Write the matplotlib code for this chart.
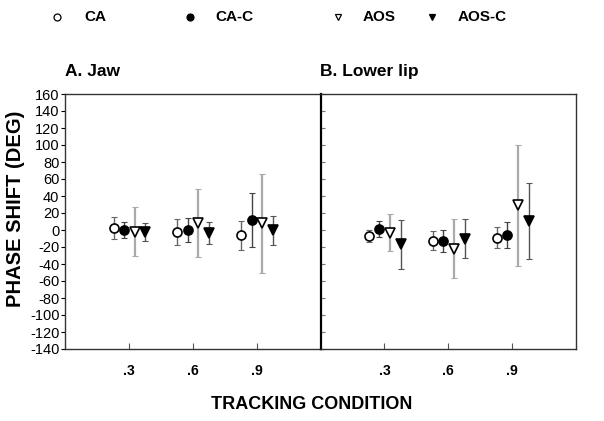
import matplotlib
matplotlib.use("Agg")
import matplotlib.pyplot as plt
from matplotlib.lines import Line2D
import numpy as np

plt.rcParams["font.family"] = ["Liberation Sans", "DejaVu Sans"]
plt.rcParams["axes.unicode_minus"] = False

# tracking conditions
conditions = [".3", ".6", ".9"]
series = ["CA", "CA-C", "AOS", "AOS-C"]

# panel A: jaw (mean, sd) per series, per condition
jaw_mean = {
    "CA": [2, -2.5, -6],
    "CA-C": [0, 0, 12],
    "AOS": [-2, 8.5, 8],
    "AOS-C": [-2, -4, -0.5],
}
jaw_err = {
    "CA": [13, 15, 17],
    "CA-C": [9.5, 14, 32],
    "AOS": [29, 40, 58],
    "AOS-C": [10.5, 13, 17],
}

# panel B: lower lip
lip_mean = {
    "CA": [-7, -12.5, -9],
    "CA-C": [1.5, -13, -6],
    "AOS": [-3, -22, 29],
    "AOS-C": [-17, -10, 10.5],
}
lip_err = {
    "CA": [7, 11.5, 12],
    "CA-C": [9.5, 13, 15],
    "AOS": [22, 35, 71],
    "AOS-C": [29, 23, 45],
}

offsets = {"CA": -0.24, "CA-C": -0.08, "AOS": 0.09, "AOS-C": 0.26}
styles = {
    "CA": dict(marker="o", mfc="white", mec="black", ms=6.5),
    "CA-C": dict(marker="o", mfc="black", mec="black", ms=6.5),
    "AOS": dict(marker="v", mfc="white", mec="black", ms=7),
    "AOS-C": dict(marker="v", mfc="black", mec="black", ms=7),
}
err_color = {"CA": "#666666", "CA-C": "#444444", "AOS": "#aaaaaa", "AOS-C": "#555555"}
err_lw = {"CA": 1.0, "CA-C": 1.0, "AOS": 1.6, "AOS-C": 1.0}

fig = plt.figure(figsize=(6.04, 4.21), dpi=100)
left, right, bottom, top = 65 / 604, 576 / 604, 1 - 349 / 421, 1 - 94 / 421
w = (right - left) / 2
ax_a = fig.add_axes([left, bottom, w, top - bottom])
ax_b = fig.add_axes([left + w, bottom, w, top - bottom])

x = np.arange(1, len(conditions) + 1)


def draw_panel(ax, means, errs, title):
    for s in series:
        ax.errorbar(x + offsets[s], means[s], yerr=errs[s], fmt="none",
                    ecolor=err_color[s], elinewidth=err_lw[s], capsize=2.5,
                    capthick=0.8, zorder=2)
        ax.plot(x + offsets[s], means[s], ls="none", mew=1.2, zorder=3, **styles[s])
    ax.set_xlim(0, 4)
    ax.set_ylim(-140, 160)
    ax.set_xticks(x)
    ax.set_xticklabels(conditions, fontweight="bold", fontsize=10)
    ax.set_yticks(np.arange(-140, 161, 20))
    ax.tick_params(axis="x", direction="in", length=4, pad=11, color="#555555")
    ax.text(0, 1.06, title, transform=ax.transAxes, fontsize=12.5,
            fontweight="bold", ha="left", va="bottom")
    for sp in ax.spines.values():
        sp.set_linewidth(1.0)
        sp.set_color("#333333")


draw_panel(ax_a, jaw_mean, jaw_err, "A. Jaw")
draw_panel(ax_b, lip_mean, lip_err, "B. Lower lip")

ax_a.tick_params(axis="y", direction="out", length=3, labelsize=10.5, pad=1)
ax_b.tick_params(axis="y", direction="in", length=3, labelleft=False, color="#777777")
ax_b.spines["left"].set_linewidth(1.6)
ax_b.spines["left"].set_color("black")

ax_a.set_ylabel("PHASE SHIFT (DEG)", fontsize=14.5, fontweight="bold")
ax_a.yaxis.set_label_coords(-0.155, 0.55)
fig.text((left + right) / 2 - 0.015, 0.02, "TRACKING CONDITION", fontsize=13,
         fontweight="bold", ha="center", va="bottom")

# legend row along the top
legend_marker_x = [57, 190, 338, 432]
legend_text_x = [84, 215, 363, 458]
legend_y = 1 - 17 / 421
for s, mx, tx in zip(series, legend_marker_x, legend_text_x):
    st = dict(styles[s])
    st["ms"] = 5
    fig.add_artist(Line2D([mx / 604], [legend_y], transform=fig.transFigure,
                          ls="none", mew=0.9, **st))
    fig.text(tx / 604, legend_y, s, fontsize=11, fontweight="bold",
             ha="left", va="center")

fig.savefig("out.png", dpi=100)
